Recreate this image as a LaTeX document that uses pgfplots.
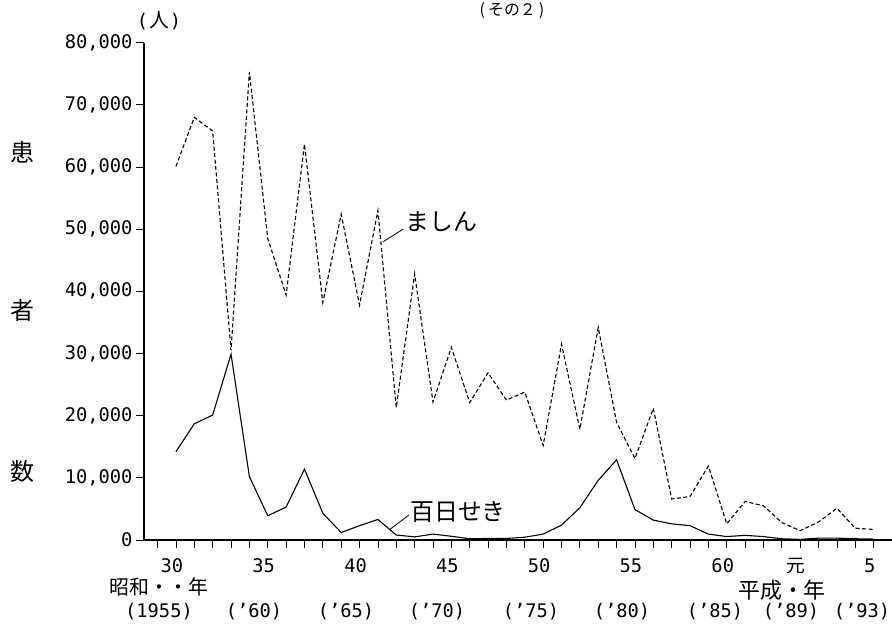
\documentclass[border=0pt]{standalone}
\usepackage{fontspec}
\setmonofont{DejaVu Sans Mono}
\newfontfamily\cjk{Noto Sans CJK JP}
\usepackage{pgfplots}
\pgfplotsset{compat=1.18}
\begin{document}
\begin{tikzpicture}
\useasboundingbox (0bp,0bp) rectangle (892bp,626bp);
\begin{axis}[
  at={(144bp,86bp)}, anchor=south west,
  scale only axis, width=748bp, height=497.3bp,
  xmin=28.26, xmax=69, ymin=0, ymax=80000,
  axis lines*=left,
  axis line style={line width=1.3bp},
  tick align=outside,
  major tick length=8bp, minor tick length=8bp,
  tick style={line width=0.8bp, black},
  scaled y ticks=false, scaled x ticks=false,
  xtick={30,35,40,45,50,55,60,64,68},
  xticklabels={30,35,40,45,50,55,60,{\cjk 元},5},
  minor xtick={29,...,68},
  ytick={0,10000,20000,30000,40000,50000,60000,70000,80000},
  yticklabels={0,{10,000},{20,000},{30,000},{40,000},{50,000},{60,000},{70,000},{80,000}},
  ticklabel style={font=\ttfamily\fontsize{18.8}{20}\selectfont},
  xticklabel style={xshift=-4bp, yshift=-7bp},
  clip=false,
]
\addplot[black, line width=1.1bp, dash pattern=on 4bp off 2.5bp] coordinates {
(30,60100) (31,68000) (32,65800) (33,30500) (34,75300) (35,48500) (36,39400)
(37,63700) (38,38200) (39,52400) (40,37800) (41,53000) (42,21300) (43,42800)
(44,22200) (45,31000) (46,22100) (47,26900) (48,22500) (49,23800) (50,15200)
(51,31500) (52,17800) (53,34200) (54,18900) (55,13100) (56,21200) (57,6600)
(58,7000) (59,11900) (60,2600) (61,6200) (62,5500) (63,2800) (64,1500)
(65,2900) (66,5100) (67,1900) (68,1700)
};
\addplot[black, line width=1.1bp] coordinates {
(30,14200) (31,18700) (32,20100) (33,29900) (34,10200) (35,3900) (36,5300)
(37,11400) (38,4300) (39,1200) (40,2300) (41,3300) (42,800) (43,500)
(44,950) (45,600) (46,200) (47,250) (48,250) (49,450) (50,950)
(51,2400) (52,5200) (53,9600) (54,12900) (55,4900) (56,3200) (57,2600)
(58,2300) (59,950) (60,550) (61,750) (62,550) (63,200) (64,100)
(65,300) (66,300) (67,200) (68,150)
};
\end{axis}
% annotations
\node[font=\ttfamily\fontsize{18.8}{20}\selectfont, inner sep=0pt] at (159bp,605bp) {(\hspace{1bp}{\cjk\fontsize{20}{21}\selectfont 人}\hspace{1bp})};
\node[font=\cjk\fontsize{16}{17}\selectfont] at (512bp,615bp) {(\hspace{3bp}その２\hspace{3bp})};
\node[font=\cjk\fontsize{24}{26}\selectfont] at (22bp,474bp) {患};
\node[font=\cjk\fontsize{24}{26}\selectfont] at (22bp,316bp) {者};
\node[font=\cjk\fontsize{24}{26}\selectfont] at (22bp,155bp) {数};
\node[font=\cjk\fontsize{20}{22}\selectfont, inner sep=0pt] at (159bp,39bp) {昭和・・年};
\node[font=\cjk\fontsize{22}{24}\selectfont, inner sep=0pt] at (782bp,36bp) {平成・年};
\begin{scope}[every node/.style={font=\ttfamily\fontsize{18.8}{20}\selectfont, inner sep=0pt}]
\node at (159bp,14.3bp) {(1955)};
\node at (254bp,14.3bp) {(’60)};
\node at (346bp,14.3bp) {(’65)};
\node at (437bp,14.3bp) {(’70)};
\node at (531bp,14.3bp) {(’75)};
\node at (622bp,14.3bp) {(’80)};
\node at (715bp,14.3bp) {(’85)};
\node at (791bp,14.3bp) {(’89)};
\node at (862bp,14.3bp) {(’93)};
\end{scope}
\node[font=\cjk\fontsize{24}{26}\selectfont, anchor=west, inner sep=0pt] at (405bp,404bp) {ましん};
\draw[line width=0.8bp] (383.3bp,384.3bp) -- (403.3bp,397bp);
\node[font=\cjk\fontsize{24}{26}\selectfont, anchor=west, inner sep=0pt] at (410bp,114.3bp) {百日せき};
\draw[line width=0.8bp] (390bp,96.7bp) -- (409bp,111bp);
\end{tikzpicture}
\end{document}
